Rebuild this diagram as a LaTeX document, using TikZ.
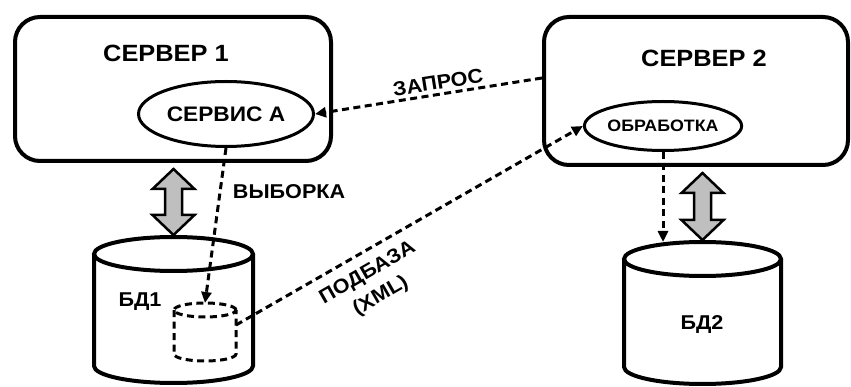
\documentclass[tikz,border=0pt]{standalone}
\usepackage{fontspec}
\setmainfont[FakeStretch=1.08]{Liberation Sans}
\usetikzlibrary{shapes.geometric,arrows.meta,calc}
\tikzset{
	server/.style={draw,line width=4pt,rounded corners=25pt,inner sep=0pt},
	service/.style={draw,ellipse,line width=3pt,inner sep=0pt,font=\bfseries\fontsize{21}{24}\selectfont},
	base/.style={inner sep=0pt,outer sep=0pt},
	flow/.style={line width=3pt,dash pattern=on 7pt off 4.5pt,-{Triangle[length=11pt,width=10pt]}},
	title/.style={font=\bfseries\fontsize{23.5}{28}\selectfont},
	tag/.style={font=\bfseries\fontsize{20}{26.5}\selectfont},
	link/.style={draw,line width=2.5pt,fill=black!25,line join=miter},
}
% drum outline round a node: style, node, x radius, y radius
\newcommand{\drum}[4][]{
	\draw[#1] ($(#2.north west)+(0,-#4)$) -- ($(#2.south west)+(0,#4)$)
		arc[start angle=180,end angle=360,x radius=#3,y radius=#4]
		-- ($(#2.north east)+(0,-#4)$);
	\draw[#1] ($(#2.north)+(0,-#4)$) ellipse[x radius=#3,y radius=#4];
}
\begin{document}
\begin{tikzpicture}[x=1pt,y=1pt]
\useasboundingbox (0,0) rectangle (851,-387);
% servers
\node[server,minimum width=316pt,minimum height=144pt] (srv1) at (173,-89) {};
\node[server,minimum width=304pt,minimum height=148pt] (srv2) at (696,-91) {};
\node[title] (srv1name) at (166,-53) {СЕРВЕР 1};
\node[title] (srv2name) at (704,-58) {СЕРВЕР 2};
\node[service,minimum width=175pt,minimum height=65pt] (svc) at (226,-114) {СЕРВИС А};
\node[service,minimum width=154pt,minimum height=49pt,font=\bfseries\fontsize{16.5}{20}\selectfont] (proc) at (663,-126) {ОБРАБОТКА};
% databases
\node[base,minimum width=159pt,minimum height=146pt] (db1) at (173.5,-310) {};
\node[base,minimum width=157pt,minimum height=142pt] (db2) at (702.5,-313) {};
\node[base,minimum width=62pt,minimum height=58pt] (sub) at (205,-332) {};
\drum[line width=4pt]{db1}{79.5}{17}
\drum[line width=4pt]{db2}{78.5}{17}
\drum[line width=3pt,dash pattern=on 7pt off 4.5pt]{sub}{31}{7}
\node[tag] (db1name) at (140,-302) {БД1};
\node[tag] (db2name) at (702,-325) {БД2};
% gray links
\foreach \s/\d in {srv1/db1,srv2/db2}{
	\coordinate (top) at ($(\d.north |- \s.south)+(0,-6)$);
	\coordinate (bot) at ($(\d.north)+(0,2)$);
	\draw[link] (top) -- ++(21,-20) -- ++(-12.5,0) -- ($(bot)+(8.5,20)$) -- ++(12.5,0) -- (bot)
		-- ++(-21,20) -- ++(12.5,0) -- ($(top)+(-8.5,-20)$) -- ++(-12.5,0) -- cycle;
}
% requests
\draw[flow] ([yshift=13pt]srv2.west) -- node[tag,sloped,above,pos=0.45] {ЗАПРОС} (svc.east);
\draw[flow] (svc.south) -- node[tag,pos=0.28,right=8pt] {ВЫБОРКА} (sub.north);
\draw[flow] ([yshift=7pt]sub.east) -- node[tag,sloped,below=7pt,align=center,pos=0.35] {ПОДБАЗА\\(XML)} (proc.west);
\draw[flow] (proc.south) -- (proc.south |- db2.north);
\end{tikzpicture}
\end{document}
